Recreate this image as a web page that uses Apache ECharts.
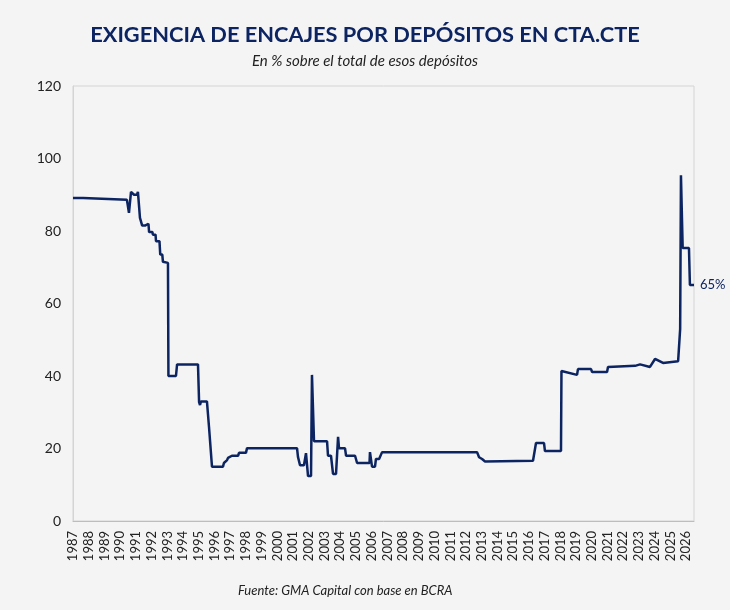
<!DOCTYPE html>
<html>
<head>
<meta charset="utf-8">
<script src="https://cdn.jsdelivr.net/npm/echarts@6/dist/echarts.min.js"></script>
<style>
  html, body { margin: 0; padding: 0; background: #f4f4f4; }
  #chart { width: 730px; height: 610px; }
</style>
</head>
<body>
<div id="chart"></div>
<script>
// fechas en años decimales y encaje (% de los depósitos en cta. cte.)
var fechas = [
  1987.00, 1987.64, 1987.70, 1990.43, 1990.56, 1990.69, 1990.88, 1991.07, 1991.13, 1991.20,
  1991.26, 1991.40, 1991.58, 1991.62, 1991.80, 1991.84, 1992.05, 1992.08, 1992.25, 1992.28,
  1992.50, 1992.55, 1992.68, 1992.72, 1993.04, 1993.07, 1993.55, 1993.62, 1994.95, 1995.02,
  1995.08, 1995.14, 1995.52, 1995.65, 1995.84, 1996.54, 1996.60, 1996.80, 1996.86, 1997.11,
  1997.50, 1997.56, 1998.00, 1998.07, 2001.25, 2001.31, 2001.44, 2001.69, 2001.82, 2001.95,
  2002.14, 2002.20, 2002.33, 2003.16, 2003.22, 2003.41, 2003.54, 2003.73, 2003.86, 2003.92,
  2004.30, 2004.37, 2004.94, 2005.07, 2005.86, 2005.89, 2006.02, 2006.21, 2006.27, 2006.47,
  2006.66, 2012.70, 2012.83, 2013.02, 2013.21, 2016.26, 2016.45, 2016.96, 2017.02, 2018.04,
  2018.07, 2019.06, 2019.12, 2019.95, 2020.02, 2020.97, 2021.03, 2022.75, 2023.07, 2023.70,
  2024.02, 2024.53, 2025.49, 2025.62, 2025.67, 2025.72, 2025.78, 2026.18, 2026.24, 2026.50
];
var valores = [
  89.1, 89.1, 88.6, 88.6, 85.0, 90.8, 90.0, 90.0, 90.8, 90.8,
  83.6, 81.5, 81.5, 82.0, 82.0, 79.7, 79.7, 79.0, 79.0, 77.2,
  77.2, 73.5, 73.5, 71.5, 71.2, 40.0, 40.0, 43.2, 43.2, 32.8,
  32.0, 33.0, 33.0, 26.0, 15.0, 15.0, 16.0, 16.8, 17.4, 18.0,
  18.0, 18.8, 18.8, 20.1, 20.1, 17.7, 15.4, 15.4, 18.7, 12.4,
  12.4, 40.3, 22.0, 22.0, 18.0, 18.0, 13.0, 13.0, 23.2, 20.1,
  20.1, 18.0, 18.0, 16.0, 16.0, 19.0, 15.0, 15.0, 17.1, 17.1,
  19.0, 19.0, 17.6, 17.1, 16.4, 16.6, 21.5, 21.5, 19.3, 19.3,
  41.4, 40.3, 41.9, 41.9, 41.1, 41.1, 42.5, 42.8, 43.2, 42.5,
  44.7, 43.6, 44.1, 53.0, 95.4, 95.4, 75.3, 75.3, 65.1, 65.1
];
var ticksY = [0, 20, 40, 60, 80, 100, 120];

(function () {
  var myChart = echarts.init(document.getElementById('chart'));
  var azul = '#0c2461';
  var puntos = fechas.map(function (f, i) { return [f, valores[i]]; });

  var option = {
    backgroundColor: '#f4f4f4',
    textStyle: { fontFamily: 'Lato' },
    title: [
      {
        text: 'EXIGENCIA DE ENCAJES POR DEPÓSITOS EN CTA.CTE',
        left: 'center',
        top: 19,
        textStyle: { fontFamily: 'Lato', fontWeight: 'bold', fontSize: 21.8, color: azul }
      },
      {
        text: 'En % sobre el total de esos depósitos',
        left: 'center',
        top: 49,
        textStyle: { fontFamily: 'Lato', fontStyle: 'italic', fontWeight: 'normal', fontSize: 15, color: '#222' }
      },
      {
        // la fuente no está centrada en el original
        text: 'Fuente: GMA Capital con base en BCRA',
        left: 233,
        top: 579,
        textStyle: { fontFamily: 'Lato', fontStyle: 'italic', fontWeight: 'normal', fontSize: 13, color: '#222' }
      }
    ],
    grid: {
      left: 73,
      right: 36,
      top: 86,
      bottom: 89,
      show: true,
      borderColor: '#d4d4d4',
      borderWidth: 1
    },
    xAxis: {
      type: 'value',
      min: 1987,
      max: 2026.5,
      interval: 1,
      splitLine: { show: false },
      axisTick: { show: false },
      axisLine: { lineStyle: { color: '#bdbdbd' } },
      axisLabel: {
        rotate: 90,
        fontSize: 13,
        color: '#222',
        margin: 10,
        showMaxLabel: false,
        formatter: function (v) { return String(v); }
      }
    },
    yAxis: {
      type: 'value',
      min: ticksY[0],
      max: ticksY[ticksY.length - 1],
      interval: 20,
      splitLine: { show: false },
      axisTick: { show: false },
      axisLine: { show: true, lineStyle: { color: '#d4d4d4' } },
      axisLabel: { fontSize: 14, color: '#222', margin: 12 }
    },
    series: [
      {
        type: 'line',
        data: puntos,
        showSymbol: false,
        lineStyle: { color: azul, width: 2.5 },
        itemStyle: { color: azul },
        endLabel: {
          show: true,
          distance: 6,
          fontSize: 13,
          color: azul,
          formatter: function (p) { return Math.round(p.value[1]) + '%'; }
        }
      }
    ]
  };
  myChart.setOption(option);
  window.addEventListener('resize', function () {
    myChart.resize();
  });
})();
</script>
</body>
</html>
